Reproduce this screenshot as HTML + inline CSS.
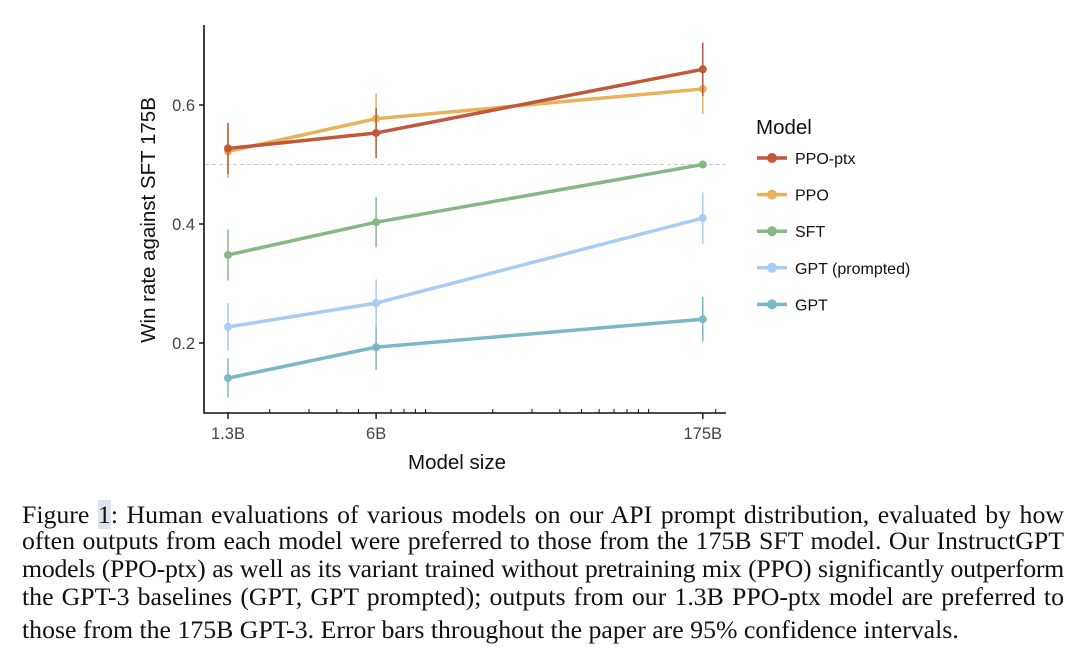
<!DOCTYPE html>
<html><head><meta charset="utf-8"><style>
body{margin:0;width:1080px;height:664px;background:#fff;overflow:hidden;position:relative}
svg{position:absolute;left:0;top:0}
.cl{position:absolute;left:22px;width:1042px;font-family:"Liberation Serif",serif;font-size:25.8px;line-height:28px;text-align:justify;text-align-last:justify;color:#111;white-space:nowrap}
.last{text-align-last:left}
</style></head><body>
<svg id="chart" width="1080" height="490"></svg>
<div id="cap">
<div class="cl" style="top:501px">Figure <span style="background:#dde3f0">1</span>: Human evaluations of various models on our API prompt distribution, evaluated by how</div>
<div class="cl" style="top:527px">often outputs from each model were preferred to those from the 175B SFT model. Our InstructGPT</div>
<div class="cl" style="top:555px;letter-spacing:-0.25px;word-spacing:-1px">models (PPO-ptx) as well as its variant trained without pretraining mix (PPO) significantly outperform</div>
<div class="cl" style="top:583px">the GPT-3 baselines (GPT, GPT prompted); outputs from our 1.3B PPO-ptx model are preferred to</div>
<div class="cl last" style="top:616px">those from the 175B GPT-3. Error bars throughout the paper are 95% confidence intervals.</div>
</div>
<script>
const sizes=[1.3,6,175];
const sizeLabels=["1.3B","6B","175B"];
const yTicks=[0.2,0.4,0.6];
const seriesNames=["PPO-ptx","PPO","SFT","GPT (prompted)","GPT"];
const colors=["#c0583a","#e8b15a","#86b887","#a8ccf5","#7ab8c7"];
const valPtx=[0.527,0.553,0.66];
const valPpo=[0.522,0.577,0.627];
const valSft=[0.348,0.403,0.5];
const valGptP=[0.227,0.267,0.41];
const valGpt=[0.141,0.193,0.24];
const errPtx=[0.043,0.042,0.045];
const errPpo=[0.045,0.042,0.042];
const errSft=[0.043,0.042,0];
const errGptP=[0.04,0.04,0.043];
const errGpt=[0.033,0.038,0.038];
const vals=[valPtx,valPpo,valSft,valGptP,valGpt];
const errs=[errPtx,errPpo,errSft,errGptP,errGpt];
const NS="http://www.w3.org/2000/svg";
const svg=document.getElementById('chart');
const X=v=>228+223*(Math.log10(v)-Math.log10(1.3));
const Y=v=>224-595*(v-0.4);
function mk(t,a,p){const e=document.createElementNS(NS,t);for(const k in a)e.setAttribute(k,a[k]);(p||svg).appendChild(e);return e;}
let r=mk('line',{x1:205,x2:726,y1:Y(0.5),y2:Y(0.5),stroke:'#ccc','stroke-dasharray':'4,3','stroke-width':1});


let ax=mk('path',{d:'M204,25 V413 H726',fill:'none',stroke:'#111','stroke-width':1.6});


yTicks.forEach(t=>{
 mk('line',{x1:199,x2:204,y1:Y(t),y2:Y(t),stroke:'#111','stroke-width':1.4});
 let tx=mk('text',{x:195,y:Y(t)+6,'text-anchor':'end','font-family':'Liberation Sans, sans-serif','font-size':16.5,fill:'#444'});
 tx.textContent=t.toFixed(1);
 
 
});
const minor=[2,3,4,5,7,8,9,10,20,30,40,50,60,70,80,90,100,200];
minor.forEach(m=>{mk('line',{x1:X(m),x2:X(m),y1:413,y2:409,stroke:'#111','stroke-width':1});});
sizes.forEach((s,i)=>{
 mk('line',{x1:X(s),x2:X(s),y1:413,y2:419,stroke:'#111','stroke-width':1.4});
 let tx=mk('text',{x:X(s),y:439,'text-anchor':'middle','font-family':'Liberation Sans, sans-serif','font-size':16.5,fill:'#444'});
 tx.textContent=sizeLabels[i];
 
 
});
let xt=mk('text',{x:457,y:469,'text-anchor':'middle','font-family':'Liberation Sans, sans-serif','font-size':20.5,fill:'#111'});
xt.textContent='Model size';


let yt=mk('text',{transform:'translate(155,220) rotate(-90)','text-anchor':'middle','font-family':'Liberation Sans, sans-serif','font-size':20.5,fill:'#111'});
yt.textContent='Win rate against SFT 175B';


[4,3,2,1,0].forEach(si=>{
 const g=mk('g',{});
 
 
 vals[si].forEach((v,i)=>{if(errs[si][i]>0)mk('line',{x1:X(sizes[i]),x2:X(sizes[i]),y1:Y(v-errs[si][i]),y2:Y(v+errs[si][i]),stroke:colors[si],'stroke-width':1.5},g);});
 mk('polyline',{points:vals[si].map((v,i)=>X(sizes[i])+','+Y(v)).join(' '),fill:'none',stroke:colors[si],'stroke-width':3.5},g);
 vals[si].forEach((v,i)=>{mk('circle',{cx:X(sizes[i]),cy:Y(v),r:4,fill:colors[si]},g);});
});
let lt=mk('text',{x:756,y:134,'font-family':'Liberation Sans, sans-serif','font-size':20.5,fill:'#111'});
lt.textContent='Model';


seriesNames.forEach((n,i)=>{
 const y=158+36.6*i;
 const g=mk('g',{});
 
 
 mk('line',{x1:757,x2:787,y1:y,y2:y,stroke:colors[i],'stroke-width':3.5},g);
 mk('circle',{cx:772,cy:y,r:5,fill:colors[i]},g);
 const t=mk('text',{x:795,y:y+6,'font-family':'Liberation Sans, sans-serif','font-size':16,fill:'#111'},g);
 t.textContent=n;
});
</script>
</body></html>
